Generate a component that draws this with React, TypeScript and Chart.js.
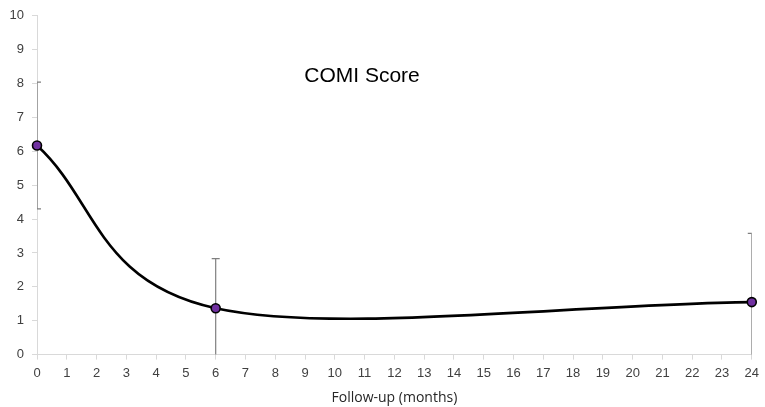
import React, { useEffect, useRef } from "react";
import { Chart, registerables } from "chart.js";

Chart.register(...registerables);

const months = [0, 6, 24];
const comiMean = [6.17, 1.37, 1.55];
const comiSd = [1.87, 1.46, 2.03];
const xTicks = Array.from({ length: 25 }, (_, i) => i);
const chartTitle = "COMI Score";
const xAxisTitle = "Follow-up (months)";

// Excel-like smoothing: Catmull-Rom style control points, reflected phantom points at the ends
const smoothingPlugin = {
  id: "excelSmooth",
  beforeDatasetsDraw(chart: any) {
    const meta = chart.getDatasetMeta(0);
    const line = meta.dataset;
    if (!line) return;
    line.updateControlPoints(chart.chartArea, "x");
    const pts = meta.data;
    const k = 1 / 6;
    const n = pts.length;
    for (let i = 0; i < n; i++) {
      const p = pts[i];
      const prev = i > 0 ? pts[i - 1] : { x: 2 * p.x - pts[i + 1].x, y: 2 * p.y - pts[i + 1].y };
      const next = i < n - 1 ? pts[i + 1] : { x: 2 * p.x - pts[i - 1].x, y: 2 * p.y - pts[i - 1].y };
      p.cp1x = p.x - (next.x - prev.x) * k;
      p.cp1y = p.y - (next.y - prev.y) * k;
      p.cp2x = p.x + (next.x - prev.x) * k;
      p.cp2y = p.y + (next.y - prev.y) * k;
    }
  },
};

const errorBarPlugin = {
  id: "errorBars",
  beforeDatasetsDraw(chart: any) {
    const { ctx, chartArea, scales } = chart;
    ctx.save();
    ctx.beginPath();
    ctx.rect(chartArea.left, chartArea.top, chartArea.right - chartArea.left, chartArea.bottom - chartArea.top);
    ctx.clip();
    ctx.strokeStyle = "#7f7f7f";
    ctx.lineWidth = 1.2;
    months.forEach((m, i) => {
      const x = scales.x.getPixelForValue(m);
      const yTop = scales.y.getPixelForValue(comiMean[i] + comiSd[i]);
      const yBot = scales.y.getPixelForValue(comiMean[i] - comiSd[i]);
      ctx.beginPath();
      ctx.moveTo(x, yTop);
      ctx.lineTo(x, yBot);
      ctx.moveTo(x - 4, yTop);
      ctx.lineTo(x + 4, yTop);
      ctx.moveTo(x - 4, yBot);
      ctx.lineTo(x + 4, yBot);
      ctx.stroke();
    });
    ctx.restore();
  },
};

const titlePlugin = {
  id: "innerTitle",
  afterDraw(chart: any) {
    const { ctx } = chart;
    ctx.save();
    ctx.fillStyle = "#000";
    ctx.font = "21px 'Liberation Sans', Arial, sans-serif";
    ctx.textAlign = "center";
    ctx.textBaseline = "middle";
    ctx.fillText(chartTitle, 362, 76);
    ctx.restore();
  },
};

export default function App() {
  const ref = useRef<HTMLCanvasElement | null>(null);
  useEffect(() => {
    document.body.style.margin = "0";
    if (!ref.current) return;
    const chart = new Chart(ref.current, {
      type: "line",
      data: {
        datasets: [
          {
            data: months.map((m, i) => ({ x: m, y: comiMean[i] })),
            borderColor: "#000",
            borderWidth: 2.6,
            tension: 0.4,
            pointRadius: 4.5,
            pointBackgroundColor: "#7030a0",
            pointBorderColor: "#000",
            pointBorderWidth: 1.6,
            clip: false as any,
          },
        ],
      },
      options: {
        animation: false,
        responsive: false,
        maintainAspectRatio: false,
        layout: { padding: { top: 11, right: 12, left: 4, bottom: 1 } },
        plugins: { legend: { display: false }, tooltip: { enabled: false } },
        scales: {
          x: {
            type: "linear",
            min: 0,
            max: 24,
            afterBuildTicks: (s: any) => {
              s.ticks = xTicks.map((v) => ({ value: v }));
            },
            ticks: {
              autoSkip: false,
              maxRotation: 0,
              color: "#404040",
              font: { size: 13, family: "'Liberation Sans', Arial, sans-serif" },
              padding: 6,
            },
            grid: { display: true, drawOnChartArea: false, tickLength: 5, color: "#d9d9d9" },
            border: { color: "#d9d9d9", width: 1 },
            title: {
              display: true,
              text: xAxisTitle,
              color: "#262626",
              font: { size: 14, family: "'Open Sans', Arial, sans-serif" },
              padding: { top: 2, bottom: 0 },
            },
          },
          y: {
            type: "linear",
            min: 0,
            max: 10,
            ticks: {
              stepSize: 1,
              color: "#404040",
              font: { size: 13, family: "'Liberation Sans', Arial, sans-serif" },
              padding: 8,
            },
            grid: { display: true, drawOnChartArea: false, tickLength: 5, color: "#d9d9d9" },
            border: { color: "#d9d9d9", width: 1 },
            afterFit: (s: any) => {
              s.width = 33;
            },
          },
        },
      },
      plugins: [errorBarPlugin, smoothingPlugin, titlePlugin],
    } as any);
    return () => chart.destroy();
  }, []);
  return (
    <div style={{ width: 765, height: 407 }}>
      <canvas ref={ref} width={765} height={407} style={{ display: "block" }} />
    </div>
  );
}
